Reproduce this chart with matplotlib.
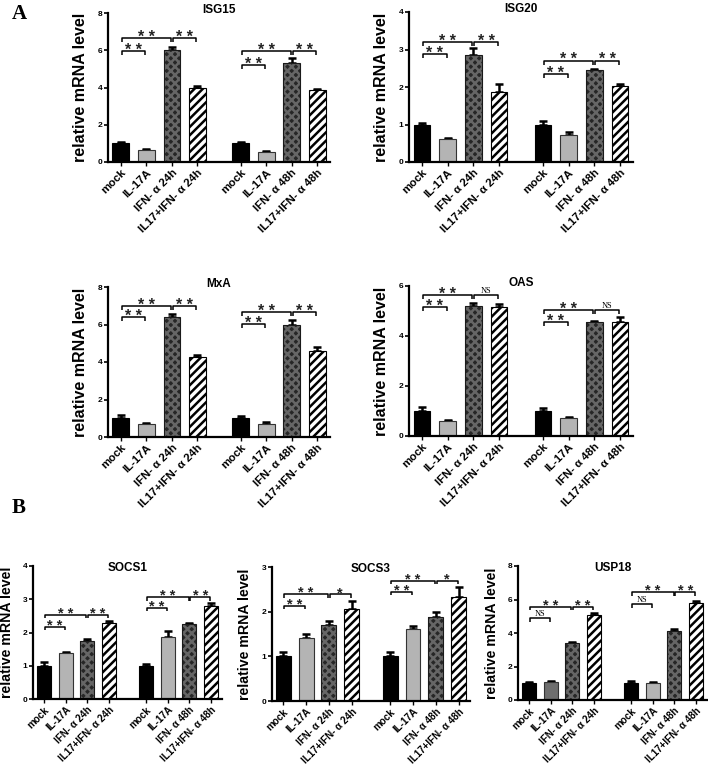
import matplotlib
matplotlib.use('Agg')
import matplotlib.pyplot as plt
import numpy as np

plt.rcParams['font.family'] = ['Liberation Sans', 'DejaVu Sans']
plt.rcParams['hatch.linewidth'] = 1.8

# 各组条件 (x 轴标签)
labels = ['mock', 'IL-17A', 'IFN- α 24h', 'IL17+IFN- α 24h',
          'mock', 'IL-17A', 'IFN- α 48h', 'IL17+IFN- α 48h']
xpos = [0, 1, 2, 3, 4.7, 5.7, 6.7, 7.7]

# 均值与误差上限
isg15 = [1.0, 0.63, 6.0, 3.95, 1.0, 0.54, 5.3, 3.85]
isg15_err = [0.08, 0.05, 0.2, 0.12, 0.1, 0.05, 0.3, 0.06]
isg20 = [1.0, 0.62, 2.85, 1.87, 1.0, 0.73, 2.45, 2.04]
isg20_err = [0.03, 0.03, 0.18, 0.2, 0.1, 0.08, 0.04, 0.05]
mxa = [1.0, 0.71, 6.4, 4.28, 1.0, 0.7, 6.0, 4.57]
mxa_err = [0.15, 0.06, 0.15, 0.1, 0.12, 0.08, 0.26, 0.22]
oas = [1.0, 0.6, 5.21, 5.15, 1.0, 0.72, 4.55, 4.55]
oas_err = [0.15, 0.06, 0.12, 0.12, 0.12, 0.05, 0.06, 0.2]
socs1 = [1.0, 1.38, 1.73, 2.28, 1.0, 1.86, 2.25, 2.8]
socs1_err = [0.1, 0.03, 0.07, 0.07, 0.05, 0.2, 0.04, 0.08]
socs3 = [1.0, 1.42, 1.7, 2.05, 1.0, 1.62, 1.87, 2.32]
socs3_err = [0.1, 0.08, 0.08, 0.18, 0.1, 0.05, 0.12, 0.24]
usp18 = [1.0, 1.08, 3.42, 5.07, 1.0, 1.03, 4.12, 5.81]
usp18_err = [0.08, 0.08, 0.07, 0.12, 0.12, 0.07, 0.1, 0.1]

# 显著性标记 (起始柱, 终止柱, 高度, 文本)
isg15_sig = [(0, 1, 5.95, '**'), (0, 2, 6.65, '**'), (2, 3, 6.65, '**'),
             (4, 5, 5.2, '**'), (4, 6, 5.95, '**'), (6, 7, 5.95, '**')]
isg20_sig = [(0, 1, 2.88, '**'), (0, 2, 3.2, '**'), (2, 3, 3.2, '**'),
             (4, 5, 2.35, '**'), (4, 6, 2.7, '**'), (6, 7, 2.7, '**')]
mxa_sig = [(0, 1, 6.4, '**'), (0, 2, 7.0, '**'), (2, 3, 7.0, '**'),
           (4, 5, 6.03, '**'), (4, 6, 6.67, '**'), (6, 7, 6.67, '**')]
oas_sig = [(0, 1, 5.15, '**'), (0, 2, 5.64, '**'), (2, 3, 5.64, 'NS'),
           (4, 5, 4.55, '**'), (4, 6, 5.04, '**'), (6, 7, 5.04, 'NS')]
socs1_sig = [(0, 1, 2.17, '**'), (0, 2, 2.53, '**'), (2, 3, 2.53, '**'),
             (4, 5, 2.74, '**'), (4, 6, 3.07, '**'), (6, 7, 3.07, '**')]
socs3_sig = [(0, 1, 2.13, '**'), (0, 2, 2.39, '**'), (2, 3, 2.39, '*'),
             (4, 5, 2.45, '**'), (4, 6, 2.69, '**'), (6, 7, 2.69, '*')]
usp18_sig = [(0, 1, 4.9, 'NS'), (0, 2, 5.57, '**'), (2, 3, 5.57, '**'),
             (4, 5, 5.73, 'NS'), (4, 6, 6.45, '**'), (6, 7, 6.45, '**')]

W, H = 708, 768
fig = plt.figure(figsize=(W / 100, H / 100), dpi=100)


def make_axes(x0, y0, x1, y1):
    # 像素坐标 -> figure 比例
    return fig.add_axes([x0 / W, 1 - y1 / H, (x1 - x0) / W, (y1 - y0) / H])


def draw_panel(ax, title, vals, errs, sigs, ymax, step, title_y=1.02, ylab_size=11.5,
               xlab_size=8.2, star_size=11.5):
    for k in range(8):
        x = xpos[k]
        kind = k % 4
        if kind == 0:
            ax.bar(x, vals[k], width=0.65, color='black', edgecolor='black', linewidth=0.8, zorder=2)
        elif kind == 1:
            ax.bar(x, vals[k], width=0.65, color='#b4b4b4', edgecolor='#333333', linewidth=0.8, zorder=2)
        elif kind == 2:
            ax.bar(x, vals[k], width=0.65, color='#262626', edgecolor='#666666',
                   hatch='xxxx', linewidth=0, zorder=2)
            ax.bar(x, vals[k], width=0.65, fill=False, edgecolor='#1a1a1a', linewidth=0.8, zorder=2)
        else:
            ax.bar(x, vals[k], width=0.65, color='white', edgecolor='black',
                   hatch='////', linewidth=0.8, zorder=2)
    ax.errorbar(xpos, vals, yerr=[np.zeros(8), errs], fmt='none', ecolor='black',
                elinewidth=1.8, capsize=3.2, capthick=1.8, zorder=1)

    h = ymax * 0.027
    for i, j, y, txt in sigs:
        x1 = xpos[i] + 0.04
        x2 = xpos[j] - 0.04
        ax.plot([x1, x1, x2, x2], [y - h, y, y, y - h], color='black', lw=1.1,
                clip_on=False, solid_capstyle='butt')
        if txt == 'NS':
            ax.text((x1 + x2) / 2, y + ymax * 0.003, txt, ha='center', va='bottom',
                    fontsize=6, family='Liberation Serif')
        else:
            ax.text((x1 + x2) / 2, y - ymax * 0.045, ' '.join(txt), ha='center', va='bottom',
                    fontsize=star_size, fontweight='bold', color='#222222')

    ax.set_xlim(-0.5, 8.2)
    ax.set_ylim(0, ymax)
    ax.set_yticks(np.arange(0, ymax + 0.01, step))
    ax.set_xticks(xpos)
    ax.set_xticklabels(labels, rotation=45, ha='right', rotation_mode='anchor',
                       fontsize=xlab_size, fontweight='bold')
    for t in ax.get_yticklabels():
        t.set_fontsize(6)
        t.set_fontweight('bold')
    ax.tick_params(axis='y', length=3, width=1.2, pad=1)
    ax.tick_params(axis='x', length=3, width=1.0, pad=1)
    for s in ['top', 'right']:
        ax.spines[s].set_visible(False)
    for s in ['left', 'bottom']:
        ax.spines[s].set_linewidth(1.6)
    ax.set_ylabel('relative mRNA level', fontsize=ylab_size, fontweight='bold')
    ax.yaxis.set_label_coords(-0.09, 0.5)
    ax.text(0.5, title_y, title, transform=ax.transAxes, ha='center', va='center',
            fontsize=8.5, fontweight='bold')


ax1 = make_axes(108, 13, 330, 162)
draw_panel(ax1, 'ISG15', isg15, isg15_err, isg15_sig, 8, 2)
ax2 = make_axes(409, 12, 633, 162)
draw_panel(ax2, 'ISG20', isg20, isg20_err, isg20_sig, 4, 1)
ax3 = make_axes(108, 287, 330, 437)
draw_panel(ax3, 'MxA', mxa, mxa_err, mxa_sig, 8, 2)
ax4 = make_axes(409, 286, 633, 436)
draw_panel(ax4, 'OAS', oas, oas_err, oas_sig, 6, 2)

b_opts = dict(title_y=0.985, ylab_size=10.2, xlab_size=7.1, star_size=10.5)
ax5 = make_axes(33, 566, 222, 699)
draw_panel(ax5, 'SOCS1', socs1, socs1_err, socs1_sig, 4, 1, **b_opts)
ax6 = make_axes(272, 567, 470, 701)
draw_panel(ax6, 'SOCS3', socs3, socs3_err, socs3_sig, 3, 1, **b_opts)
ax7 = make_axes(518, 566, 707, 700)
draw_panel(ax7, 'USP18', usp18, usp18_err, usp18_sig, 8, 2, **b_opts)
# USP18 24h 的 IL-17A 柱颜色更深
ax7.patches[1].set_facecolor('#6e6e6e')
for ax in (ax5, ax6, ax7):
    ax.yaxis.set_label_coords(-0.1, 0.5)

fig.text(12 / W, 1 - 14 / H, 'A', fontsize=15, fontweight='bold', family='Liberation Serif',
         va='center', ha='left')
fig.text(12 / W, 1 - 508 / H, 'B', fontsize=15, fontweight='bold', family='Liberation Serif',
         va='center', ha='left')

fig.savefig('out.png', dpi=100)
